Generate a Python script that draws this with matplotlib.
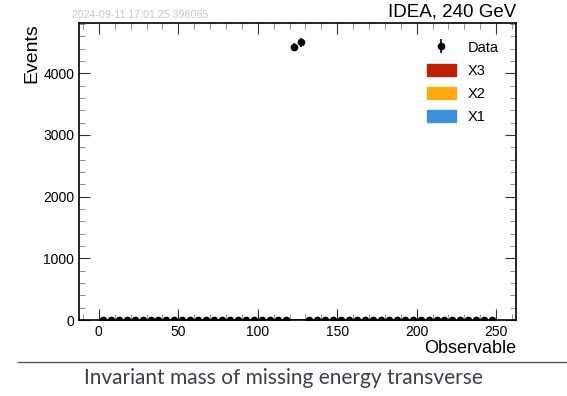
import numpy as np
import matplotlib
matplotlib.use("Agg")
import matplotlib.pyplot as plt
from matplotlib.ticker import MultipleLocator
from matplotlib.patches import Patch
from matplotlib.lines import Line2D

# Binning of the observable
bin_edges = np.arange(0, 255, 5)
bin_centers = 0.5 * (bin_edges[:-1] + bin_edges[1:])

# Observed counts (only two bins populated)
data_counts = np.zeros(len(bin_centers))
data_counts[list(bin_centers).index(122.5)] = 4420
data_counts[list(bin_centers).index(127.5)] = 4500

# Stacked background samples
x1_counts = np.zeros(len(bin_centers))
x2_counts = np.zeros(len(bin_centers))
x3_counts = np.zeros(len(bin_centers))
for c, (a, b, d) in {122.5: (2, 3, 6), 127.5: (2, 3, 6)}.items():
    i = list(bin_centers).index(c)
    x1_counts[i], x2_counts[i], x3_counts[i] = a, b, d

sample_names = ["X1", "X2", "X3"]
sample_colors = ["#3f90da", "#ffa90e", "#bd1f01"]

timestamp = "2024-09-11 17:01:25.398085"
right_title = "IDEA, 240 GeV"
caption = "Invariant mass of missing energy transverse"

plt.rcParams["font.family"] = ["Liberation Sans", "DejaVu Sans"]

fig = plt.figure(figsize=(5.67, 3.96), dpi=100)
ax = fig.add_axes([79 / 567, 1 - 320 / 396, (516 - 79) / 567, (320 - 23) / 396])

bottom = np.zeros(len(bin_centers))
for counts, color in zip([x1_counts, x2_counts, x3_counts], sample_colors):
    ax.bar(bin_centers, counts, width=5, bottom=bottom, color=color,
           edgecolor="none", align="center")
    bottom += counts

data_handle = ax.errorbar(bin_centers, data_counts, yerr=np.sqrt(data_counts),
                          fmt="o", color="black", markersize=4.5,
                          elinewidth=1.2, capsize=0, zorder=5)

ax.set_xlim(-12.5, 262.5)
ax.set_ylim(0, 1.07 * data_counts.max())

ax.xaxis.set_major_locator(MultipleLocator(50))
ax.xaxis.set_minor_locator(MultipleLocator(10))
ax.yaxis.set_major_locator(MultipleLocator(1000))
ax.yaxis.set_minor_locator(MultipleLocator(200))
ax.tick_params(which="both", direction="in", top=True, right=True,
               labelsize=10, colors="#333333", labelcolor="black")
ax.tick_params(which="major", length=8, width=0.8)
ax.tick_params(which="minor", length=4, width=0.5, colors="#666666")
for s in ax.spines.values():
    s.set_linewidth(1.2)

ax.set_xlabel("Observable", fontsize=13, loc="right", labelpad=1)
ax.set_ylabel("Events", fontsize=14, loc="top", labelpad=2)

ax.text(1.0, 1.01, right_title, transform=ax.transAxes, ha="right",
        va="bottom", fontsize=13.5)
ax.text(-0.016, 1.01, timestamp, transform=ax.transAxes, ha="left",
        va="bottom", fontsize=7.7, color="#c8c8c8")

handles = [data_handle,
           Patch(color=sample_colors[2]),
           Patch(color=sample_colors[1]),
           Patch(color=sample_colors[0])]
labels = ["Data", "X3", "X2", "X1"]
ax.legend(handles, labels, loc="upper right", frameon=False,
          fontsize=10.5, bbox_to_anchor=(0.99, 0.985),
          handlelength=2.0, handleheight=0.9, labelspacing=0.62)

# separator line and caption beneath the plot
fig.add_artist(Line2D([18 / 567, 1.0], [1 - 362 / 396, 1 - 362 / 396],
                      color="#555555", linewidth=1.0))
fig.text(0.5, 1 - 378 / 396, caption, ha="center", va="center",
         fontsize=15, color="#3a3f4a", family=["Lato", "DejaVu Sans"])

fig.savefig("out.png", dpi=100)
